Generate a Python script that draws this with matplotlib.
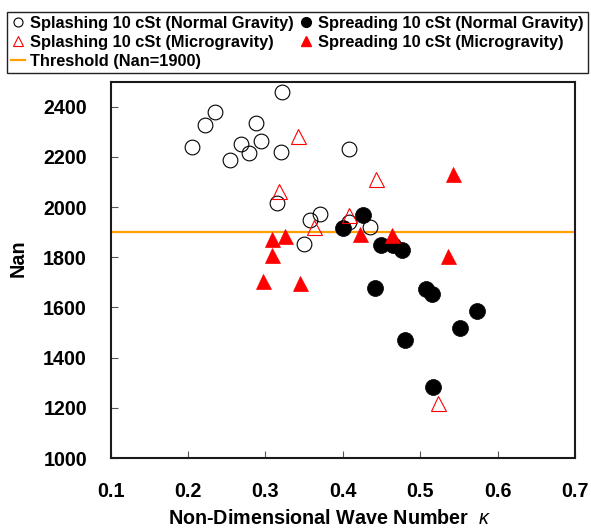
import matplotlib
matplotlib.use("Agg")
import matplotlib.pyplot as plt
from matplotlib.lines import Line2D

plt.rcParams['font.family'] = ['Liberation Sans', 'DejaVu Sans']
plt.rcParams['font.weight'] = 'bold'
plt.rcParams['mathtext.fontset'] = 'custom'
plt.rcParams['mathtext.it'] = 'Liberation Sans:italic:normal'
plt.rcParams['mathtext.rm'] = 'Liberation Sans'

# ---- data ----
splash_ng_x = [0.322, 0.235, 0.222, 0.288, 0.205, 0.269, 0.294, 0.279, 0.254,
               0.320, 0.408, 0.315, 0.370, 0.358, 0.408, 0.435, 0.350]
splash_ng_y = [2460, 2380, 2327, 2334, 2238, 2250, 2263, 2214, 2188,
               2218, 2230, 2018, 1972, 1949, 1942, 1919, 1853]

spread_ng_x = [0.426, 0.400, 0.449, 0.465, 0.477, 0.442, 0.507, 0.515,
               0.573, 0.551, 0.481, 0.516]
spread_ng_y = [1967, 1915, 1849, 1849, 1829, 1676, 1674, 1655,
               1586, 1519, 1469, 1284]

splash_mg_x = [0.342, 0.443, 0.318, 0.408, 0.363, 0.523]
splash_mg_y = [2282, 2113, 2063, 1967, 1921, 1218]

spread_mg_x = [0.309, 0.325, 0.308, 0.297, 0.345, 0.422, 0.463, 0.536, 0.543]
spread_mg_y = [1872, 1886, 1809, 1707, 1696, 1893, 1890, 1805, 2132]

threshold = 1900

x_ticks = [0.1, 0.2, 0.3, 0.4, 0.5, 0.6, 0.7]
y_ticks = [1000, 1200, 1400, 1600, 1800, 2000, 2200, 2400]

labels = ["Splashing 10 cSt (Normal Gravity)",
          "Splashing 10 cSt (Microgravity)",
          "Threshold (Nan=1900)",
          "Spreading 10 cSt (Normal Gravity)",
          "Spreading 10 cSt (Microgravity)"]

# ---- figure ----
W, H = 591, 530
fig = plt.figure(figsize=(W / 100, H / 100), dpi=100)
ax = fig.add_axes([110.6 / W, 72 / H, 464.4 / W, 376.3 / H])

ax.axhline(threshold, color='#FFA000', lw=1.6, zorder=1)
ax.plot(splash_ng_x, splash_ng_y, 'o', ms=10.6, mfc='none', mec='black', mew=0.8, zorder=2)
ax.plot(spread_ng_x, spread_ng_y, 'o', ms=11.5, mfc='black', mec='black', mew=0.5, zorder=3)
ax.plot(splash_mg_x, splash_mg_y, '^', ms=10.8, mfc='none', mec='red', mew=0.8, zorder=4)
ax.plot(spread_mg_x, spread_mg_y, '^', ms=10.8, mfc='red', mec='red', mew=0.5, zorder=5)

ax.set_xlim(0.1, 0.7)
ax.set_ylim(1000, 2500)
ax.set_xticks(x_ticks)
ax.set_xticklabels([f"{v:.1f}" for v in x_ticks])
ax.set_yticks(y_ticks)
ax.set_yticklabels([str(v) for v in y_ticks])
ax.tick_params(direction='in', length=5, width=0.8, color='#555555',
               labelsize=14.2, pad=17)
ax.tick_params(axis='x', pad=17)
for s in ax.spines.values():
    s.set_linewidth(1.5)
    s.set_color('#1a1a1a')

ax.set_xlabel(r"Non-Dimensional Wave Number  $\kappa$", fontsize=14.2, fontweight='bold')
ax.xaxis.set_label_coords(0.472, -0.136)
ax.set_ylabel("Nan", fontsize=14.2, fontweight='bold')
ax.yaxis.set_label_coords(-0.178, 0.531)

handles = [
    Line2D([], [], ls='none', marker='o', ms=6.5, mfc='none', mec='black', mew=0.8),
    Line2D([], [], ls='none', marker='^', ms=6.5, mfc='none', mec='red', mew=0.8),
    Line2D([], [], color='#FFA000', lw=1.6),
    Line2D([], [], ls='none', marker='o', ms=7, mfc='black', mec='black'),
    Line2D([], [], ls='none', marker='^', ms=7, mfc='red', mec='red'),
]
leg = fig.legend(handles, labels, loc='upper left',
                 bbox_to_anchor=(6.7 / W, 1 - 11.7 / H), ncol=2,
                 prop={'size': 11.8, 'weight': 'bold'},
                 handlelength=0.85, handletextpad=0.3, columnspacing=0.35,
                 labelspacing=0.24, borderpad=0.25, borderaxespad=0,
                 fancybox=False, framealpha=1, edgecolor='#222222')
leg.get_frame().set_linewidth(1.0)

fig.savefig("out.png", dpi=100)
